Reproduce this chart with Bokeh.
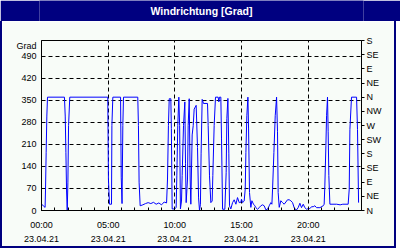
from bokeh.plotting import figure
from bokeh.layouts import column
from bokeh.models import ColumnDataSource, FixedTicker, LinearAxis, Range1d
from bokeh.core.properties import value
from bokeh.embed import file_html
from bokeh.resources import INLINE

# ---- data (hours since 23.04.21 00:00, wind direction in degrees) ----
hours = [
    0.00, 0.10, 0.20, 0.27, 0.30, 0.35, 0.40, 0.45,
    1.72, 1.78, 1.83, 1.88, 1.93, 1.98, 2.03, 2.12,
    4.97, 5.02, 5.10, 5.25, 5.28, 5.35,
    5.93, 5.98, 6.04, 6.10, 6.15,
    7.22, 7.27, 7.32, 7.40, 7.60, 7.80, 8.00, 8.20, 8.40, 8.60, 8.80, 9.00, 9.20, 9.38,
    9.45, 9.52, 9.58, 9.70, 9.74, 9.80, 10.00, 10.10, 10.15, 10.22, 10.30, 10.36, 10.42,
    10.50, 10.55, 10.65, 10.75, 10.80, 10.85, 10.95, 11.00, 11.08, 11.15, 11.20, 11.30,
    11.38, 11.45, 11.60, 11.70, 11.78, 11.85, 11.92, 11.97, 12.05, 12.15, 12.45, 12.50,
    12.60, 12.70, 12.80, 12.85, 12.95, 13.05, 13.25, 13.30, 13.35, 13.45, 13.50, 13.58,
    13.75, 13.85, 13.90, 13.98, 14.05, 14.10, 14.20, 14.33,
    14.45, 14.58, 14.70, 14.83, 14.95, 15.00, 15.08, 15.20, 15.28, 15.33, 15.40, 15.48,
    15.53, 15.60, 15.70, 15.78, 15.90, 16.00, 16.08, 16.20, 16.33, 16.45, 16.58, 16.70,
    16.83, 16.95, 17.08, 17.20, 17.28, 17.33, 17.43, 17.53, 17.63, 17.70, 17.75, 17.83,
    17.95, 18.08, 18.20, 18.33, 18.45, 18.58, 18.70, 18.83, 18.95, 19.08,
    19.13, 19.25, 19.38, 19.50, 19.63, 19.75, 19.88, 20.00, 20.13, 20.25, 20.38, 20.50,
    20.63, 20.88, 21.13, 21.20, 21.25, 21.33, 21.38, 21.45, 21.50, 21.55, 21.63, 22.13,
    22.40, 22.60, 23.00, 23.08, 23.13, 23.25, 23.63, 23.70, 23.78,
]
direction = [
    20, 17, 12, 10, 65, 185, 300, 360,
    360, 300, 185, 62, 0, 90, 270, 360,
    360, 100, 20, 20, 270, 360,
    360, 106, 22, 270, 360,
    360, 270, 90, 15, 18, 22, 25, 22, 26, 20, 24, 18, 27, 24,
    100, 270, 355, 355, 260, 5, 5, 10, 110, 270, 360, 270, 5,
    30, 111, 270, 345, 150, 25, 100, 270, 355, 100, 20, 240,
    270, 322, 334, 200, 40, 0, 20, 180, 353, 340, 340, 270,
    110, 25, 30, 111, 270, 360, 360, 345, 360, 360, 230, 4,
    4, 120, 292, 356, 180, 15, 5, 25,
    34, 20, 41, 25, 26, 36, 25, 30, 68, 184, 301, 360,
    259, 57, 10, 31, 20, 15, 9, 4, 9, 15, 18, 15,
    2, 4, 15, 25, 20, 68, 184, 301, 360, 250, 57, 10,
    31, 25, 20, 27, 34, 34, 31, 25, 9, 2,
    2, 9, 23, 9, 20, 9, 4, 6, 6, 12, 12, 15,
    9, 9, 15, 20, 78, 206, 301, 360, 250, 111, 20, 20,
    18, 20, 20, 68, 257, 360, 360, 257, 25,
]

time_ticks = [0, 5, 10, 15, 20]
time_labels = ["00:00\n23.04.21", "05:00\n23.04.21", "10:00\n23.04.21",
               "15:00\n23.04.21", "20:00\n23.04.21"]
hour_minor = list(range(0, 25))
grad_ticks = [0, 70, 140, 210, 280, 350, 420, 490]
grad_unit = "Grad"
compass_ticks = [0, 45, 90, 135, 180, 225, 270, 315, 360, 405, 450, 495, 540]
compass_labels = ["N", "NE", "E", "SE", "S", "SW", "W", "NW", "N", "NE", "E", "SE", "S"]
title_text = "Windrichtung [Grad]"

NAVY = "#000080"
BG = "#f8fcf8"
FONT = "Liberation Sans"

# ---- title bar ----
head = figure(width=400, height=21, x_range=Range1d(0, 1), y_range=Range1d(0, 1),
              output_backend="svg", toolbar_location=None,
              x_axis_location=None, y_axis_location=None, min_border=0)
head.border_fill_color = NAVY
head.background_fill_color = NAVY
head.outline_line_color = None
head.grid.visible = False
head.text(x=[0.5], y=[0.5], text=[title_text], text_align="center",
          text_baseline="middle", text_color="white", text_font=value(FONT),
          text_font_style="bold", text_font_size="10.5px")

# ---- chart ----
src = ColumnDataSource(data=dict(hours=hours, direction=direction))

p = figure(width=396, height=227, x_range=Range1d(0, 24), y_range=Range1d(0, 540),
           output_backend="svg", toolbar_location=None)
p.styles = {"border-style": "solid", "border-color": NAVY,
            "border-width": "0px 2px 2px 2px"}
p.min_border_left = 39
p.min_border_right = 37
p.min_border_top = 19
p.min_border_bottom = 38
p.border_fill_color = BG
p.background_fill_color = BG
p.outline_line_color = "black"
p.outline_line_width = 1

# grids
p.xgrid.ticker = FixedTicker(ticks=time_ticks[1:])
p.ygrid.ticker = FixedTicker(ticks=grad_ticks[1:])
for g in (p.xgrid[0], p.ygrid[0]):
    g.grid_line_color = "black"
    g.grid_line_dash = "4 3"
    g.grid_line_width = 1

# bottom axis
xa = p.xaxis[0]
xa.ticker = FixedTicker(ticks=time_ticks, minor_ticks=hour_minor)
xa.major_label_overrides = dict(zip(time_ticks, time_labels))
xa.major_tick_in = 3
xa.major_tick_out = 0
xa.minor_tick_in = 3
xa.minor_tick_out = 0
xa.major_label_standoff = 9
xa.major_label_text_font = FONT
xa.major_label_text_font_size = "9px"
xa.major_label_text_color = "black"
xa.major_label_text_line_height = 1.4
xa.axis_line_color = "black"
xa.major_tick_line_color = "black"
xa.minor_tick_line_color = "black"

# left axis
ya = p.yaxis[0]
ya.ticker = FixedTicker(ticks=grad_ticks + [524])
ya.major_label_overrides = {524: grad_unit}
ya.major_tick_in = 0
ya.major_tick_out = 0
ya.minor_tick_in = 0
ya.minor_tick_out = 0
ya.major_label_standoff = 5
ya.major_label_text_font = FONT
ya.major_label_text_font_size = "9px"
ya.major_label_text_color = "black"
ya.axis_line_color = "black"

# right axis (compass)
ra = LinearAxis(ticker=FixedTicker(ticks=compass_ticks),
                major_label_overrides=dict(zip(compass_ticks, compass_labels)))
ra.major_tick_in = 0
ra.major_tick_out = 3
ra.minor_tick_in = 0
ra.minor_tick_out = 0
ra.major_label_standoff = 2
ra.major_label_text_font = FONT
ra.major_label_text_font_size = "9px"
ra.major_label_text_color = "black"
ra.axis_line_color = "black"
ra.major_tick_line_color = "black"
p.add_layout(ra, "right")

p.line("hours", "direction", source=src, line_color="#0000ff", line_width=1)

layout = column(head, p, spacing=0)
open("out.html", "w").write(file_html(layout, INLINE))
